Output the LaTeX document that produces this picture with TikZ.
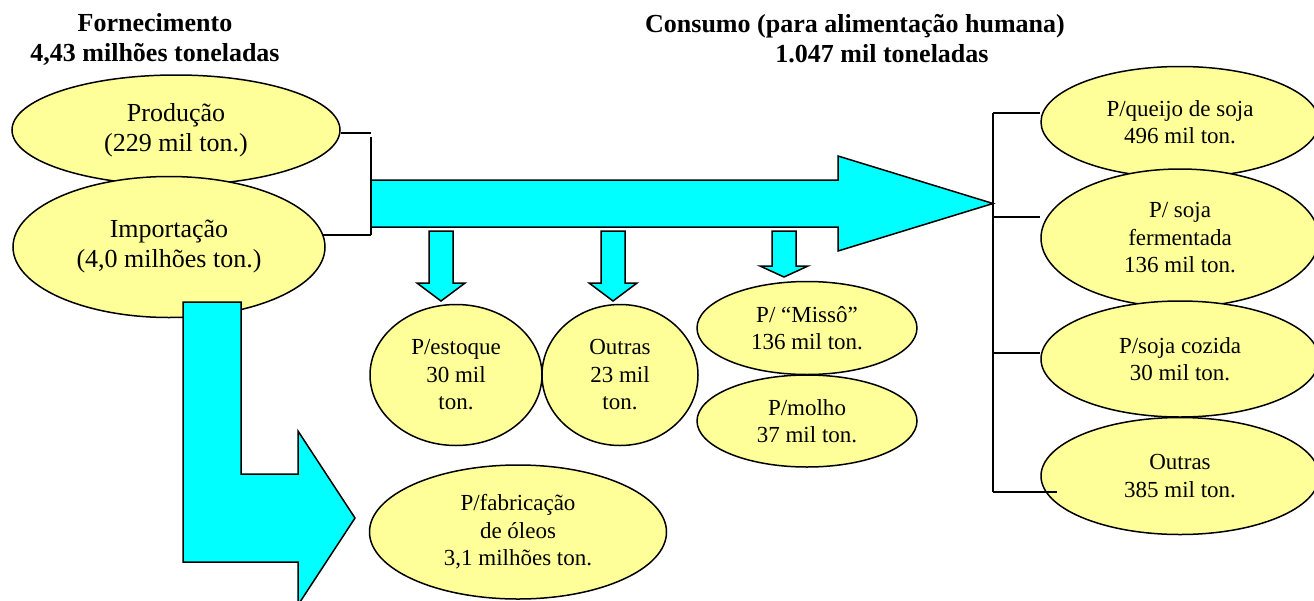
\documentclass[tikz,border=0pt]{standalone}
\usepackage{fontspec}
\setmainfont{Liberation Serif}
\usepackage{tikz}
\usetikzlibrary{shapes.geometric}
\definecolor{amarelo}{RGB}{255,255,153}
\definecolor{ciano}{RGB}{0,255,255}
\tikzstyle{bola}=[%
      ellipse, draw=black, line width=1.5pt, fill=amarelo,
      align=center, inner sep=0pt, font=\fontsize{23}{27.5}\selectfont
]
\tikzstyle{bolag}=[%
      bola, font=\fontsize{26}{30}\selectfont
]
\tikzstyle{seta}=[%
      draw=black, line width=1.5pt, fill=ciano, line join=miter
]
\tikzstyle{liga}=[%
      draw=black, line width=1.5pt
]
\tikzstyle{titulo}=[%
      font=\bfseries\fontsize{26}{29.5}\selectfont, align=center, inner sep=0pt
]

\begin{document}
\begin{tikzpicture}[x=1pt, y=-1pt]
\clip (0,0) rectangle (1314,600);

\node[titulo, anchor=base](forn) at (155,61){Fornecimento\\4,43 milhões toneladas};
\node[titulo, anchor=base](cons) at (855,32){Consumo (para alimentação humana)};
\node[titulo, anchor=base](consb) at (882,62){1.047 mil toneladas};

\node[bolag, minimum width=328, minimum height=110](prod) at (176,130){Produção\\(229 mil ton.)};
\node[bolag, minimum width=312, minimum height=141](imp) at (169,247){Importação\\(4,0 milhões ton.)};

\draw[seta](183,302) -- (241,302) -- (241,474) -- (298,474) -- (298,431) -- (355,518)
      -- (298,605) -- (298,562) -- (183,562) -- cycle;

\coordinate (lbTop) at (371,133);
\coordinate (lbBot) at (371,235);
\draw[liga](prod.east |- lbTop) -- (lbTop);
\draw[liga](323,235) -- (lbBot);
\draw[liga](371,137) -- (lbBot);

\draw[seta](371,180) -- (838,180) -- (838,156) -- (993,203.5) -- (838,251) -- (838,227)
      -- (371,227) -- cycle;

\foreach \xa/\yh/\yt in {441/283/301, 613/283/301, 784/266/277}{
  \draw[seta](\xa-12,231) -- (\xa+12,231) -- (\xa+12,\yh) -- (\xa+24,\yh) -- (\xa,\yt)
        -- (\xa-24,\yh) -- (\xa-12,\yh) -- cycle;
}

\node[bola, minimum width=172, minimum height=141](estoque) at (456,375){P/estoque\\30 mil\\ton.};
\node[bola, minimum width=156, minimum height=141](outras) at (620,375){Outras\\23 mil\\ton.};
\node[bola, minimum width=220, minimum height=93](misso) at (807,328){P/ “Missô”\\136 mil ton.};
\node[bola, minimum width=220, minimum height=92](molho) at (807,421){P/molho\\37 mil ton.};
\node[bola, minimum width=297, minimum height=134](fabric) at (518,532){P/fabricação\\de óleos\\3,1 milhões ton.};

\node[bola, minimum width=278, minimum height=111](queijo) at (1180,122){P/queijo de soja\\496 mil ton.};
\node[bola, minimum width=278, minimum height=138](ferm) at (1180,238){P/ soja\\fermentada\\136 mil ton.};
\node[bola, minimum width=278, minimum height=116](cozida) at (1180,359){P/soja cozida\\30 mil ton.};
\node[bola, minimum width=278, minimum height=117](outrasb) at (1180,476){Outras\\385 mil ton.};

\coordinate (rb1) at (993,113);
\coordinate (rb2) at (993,217);
\coordinate (rb3) at (993,353);
\coordinate (rb4) at (993,492);
\draw[liga](rb1) -- (rb4);
\draw[liga](rb1) -- (rb1 -| queijo.west);
\draw[liga](rb2) -- (rb2 -| ferm.west);
\draw[liga](rb3) -- (rb3 -| cozida.west);
\draw[liga](rb4) -- (1057,492);
\end{tikzpicture}
\end{document}
